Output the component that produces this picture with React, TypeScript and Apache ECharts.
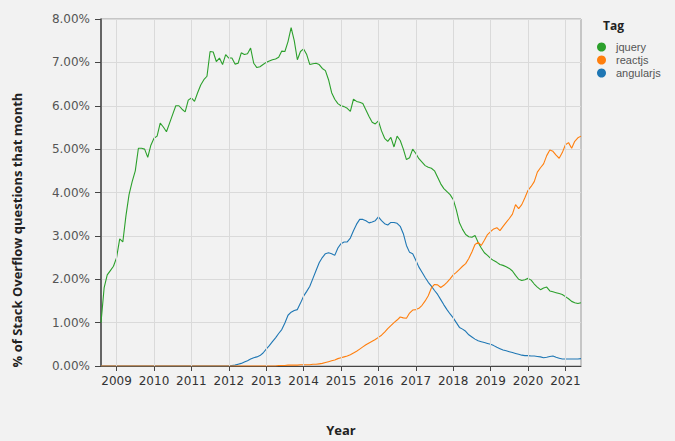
import React, { useEffect, useRef } from 'react';
import * as echarts from 'echarts';

// Monthly series, starting August 2008
const START_YEAR = 2008;
const START_MONTH = 8;
const END_YEAR = 2021;
const END_MONTH = 6;

const yearTicks = [2009, 2010, 2011, 2012, 2013, 2014, 2015, 2016, 2017, 2018, 2019, 2020, 2021];
const legendNames = ['jquery', 'reactjs', 'angularjs'];

const jquery = [
  1.00, 1.80, 2.10, 2.20, 2.30, 2.50, 2.93, 2.86, 3.46, 3.95,
  4.25, 4.50, 5.02, 5.02, 5.00, 4.81, 5.09, 5.25, 5.30, 5.60,
  5.51, 5.40, 5.60, 5.80, 6.00, 6.00, 5.92, 5.86, 6.13, 6.18,
  6.10, 6.30, 6.48, 6.60, 6.68, 7.25, 7.24, 7.02, 7.10, 6.95,
  7.18, 7.10, 7.10, 6.96, 6.98, 7.22, 7.18, 7.20, 7.33, 6.98,
  6.88, 6.90, 6.95, 7.00, 7.03, 7.06, 7.08, 7.12, 7.26, 7.25,
  7.48, 7.80, 7.50, 7.06, 7.25, 7.31, 7.18, 6.95, 6.97, 6.98,
  6.95, 6.86, 6.81, 6.60, 6.30, 6.15, 6.05, 6.00, 5.98, 5.94,
  5.87, 6.15, 6.10, 6.08, 6.05, 5.90, 5.75, 5.62, 5.58, 5.65,
  5.42, 5.25, 5.18, 5.27, 5.05, 5.30, 5.20, 5.00, 4.76, 4.80,
  5.00, 4.90, 4.78, 4.70, 4.62, 4.58, 4.56, 4.50, 4.35, 4.20,
  4.09, 4.02, 3.95, 3.84, 3.60, 3.30, 3.15, 3.03, 2.98, 2.97,
  3.01, 2.85, 2.72, 2.61, 2.55, 2.48, 2.43, 2.39, 2.34, 2.32,
  2.29, 2.25, 2.19, 2.09, 2.00, 1.97, 1.99, 2.02, 1.98, 1.89,
  1.82, 1.76, 1.80, 1.82, 1.73, 1.71, 1.69, 1.67, 1.65, 1.60,
  1.55, 1.49, 1.46, 1.44, 1.46,
];

const angularjs = [
  0, 0, 0, 0, 0, 0, 0, 0, 0, 0,
  0, 0, 0, 0, 0, 0, 0, 0, 0, 0,
  0, 0, 0, 0, 0, 0, 0, 0, 0, 0,
  0, 0, 0, 0, 0, 0, 0, 0, 0, 0,
  0, 0,
  0.01, 0.02, 0.04, 0.06, 0.09, 0.12, 0.16, 0.19, 0.21, 0.24,
  0.30, 0.39, 0.47, 0.56, 0.65, 0.75, 0.84, 0.99, 1.17, 1.24,
  1.28, 1.30, 1.45, 1.61, 1.72, 1.84, 2.02, 2.20, 2.38, 2.50,
  2.59, 2.61, 2.59, 2.55, 2.72, 2.82, 2.86, 2.86, 2.95, 3.12,
  3.27, 3.38, 3.38, 3.35, 3.30, 3.32, 3.35, 3.44, 3.35, 3.28,
  3.25, 3.31, 3.31, 3.29, 3.22, 3.05, 2.78, 2.62, 2.59, 2.44,
  2.28, 2.16, 2.04, 1.93, 1.84, 1.74, 1.65, 1.53, 1.41, 1.30,
  1.20, 1.11, 1.00, 0.89, 0.85, 0.80, 0.72, 0.67, 0.62, 0.58,
  0.56, 0.54, 0.52, 0.50, 0.47, 0.43, 0.40, 0.37, 0.35, 0.33,
  0.31, 0.29, 0.27, 0.25, 0.24, 0.24, 0.23, 0.23, 0.22, 0.21,
  0.19, 0.20, 0.22, 0.23, 0.20, 0.18, 0.16, 0.16, 0.16, 0.16,
  0.16, 0.16, 0.17,
];

const reactjs = [
  0, 0, 0, 0, 0, 0, 0, 0, 0, 0,
  0, 0, 0, 0, 0, 0, 0, 0, 0, 0,
  0, 0, 0, 0, 0, 0, 0, 0, 0, 0,
  0, 0, 0, 0, 0, 0, 0, 0, 0, 0,
  0, 0, 0, 0, 0, 0, 0, 0, 0, 0,
  0, 0, 0, 0, 0, 0, 0,
  0.01, 0.01, 0.01, 0.02, 0.02, 0.02, 0.02, 0.03, 0.03, 0.03,
  0.03, 0.04, 0.04, 0.05, 0.06, 0.08, 0.10, 0.12, 0.14, 0.17,
  0.19, 0.21, 0.23, 0.26, 0.30, 0.34, 0.39, 0.44, 0.49, 0.53,
  0.57, 0.61, 0.66, 0.71, 0.78, 0.86, 0.93, 1.00, 1.06, 1.13,
  1.11, 1.10, 1.22, 1.29, 1.30, 1.33, 1.40, 1.50, 1.62, 1.80,
  1.88, 1.87, 1.81, 1.86, 1.93, 2.01, 2.10, 2.16, 2.23, 2.30,
  2.36, 2.48, 2.63, 2.80, 2.85, 2.78, 2.90, 3.03, 3.10, 3.16,
  3.19, 3.12, 3.22, 3.31, 3.40, 3.50, 3.72, 3.63, 3.72, 3.88,
  4.05, 4.14, 4.25, 4.47, 4.57, 4.66, 4.85, 4.98, 4.95, 4.86,
  4.79, 4.92, 5.10, 5.15, 5.02, 5.18, 5.26, 5.30,
];

const COLORS: Record<string, string> = {
  jquery: '#2ca02c',
  reactjs: '#ff7f0e',
  angularjs: '#1f77b4',
};

const BG = '#f2f2f2';
const GRID = '#dadada';
const AXIS = '#444';

export default function App() {
  const ref = useRef<HTMLDivElement>(null);

  useEffect(() => {
    if (!ref.current) return;
    const chart = echarts.init(ref.current, null, { renderer: 'svg' });

    const monthTime = (i: number) => START_YEAR + (START_MONTH - 1 + i) / 12;
    const xMin = START_YEAR + (START_MONTH - 1) / 12;
    const xMax = END_YEAR + (END_MONTH - 1) / 12;
    const toPoints = (arr: number[]) => arr.map((v, i) => [monthTime(i), v]);

    const lineSeries = (name: string, arr: number[], z: number) => ({
      name,
      type: 'line',
      data: toPoints(arr),
      showSymbol: false,
      symbol: 'circle',
      z,
      lineStyle: { width: 1.1, color: COLORS[name] },
      itemStyle: { color: COLORS[name] },
      emphasis: { disabled: true },
    });

    chart.setOption({
      animation: false,
      backgroundColor: BG,
      textStyle: { fontFamily: 'DejaVu Sans' },
      grid: {
        left: 101,
        right: 94,
        top: 19,
        bottom: 70,
        show: true,
        borderColor: '#9a9a9a',
        borderWidth: 1,
        backgroundColor: 'transparent',
      },
      title: {
        text: 'Tag',
        left: 603,
        top: 19,
        padding: 0,
        textStyle: { fontFamily: 'Open Sans', fontSize: 12, fontWeight: 'bold', color: '#222' },
      },
      legend: {
        orient: 'vertical',
        left: 597,
        top: 41,
        padding: 0,
        itemGap: 1,
        itemWidth: 9,
        itemHeight: 9,
        icon: 'circle',
        data: legendNames,
        selectedMode: false,
        textStyle: {
          fontFamily: 'Liberation Sans',
          fontSize: 11,
          color: '#555',
          lineHeight: 12,
          padding: [0, 0, 0, 5],
        },
      },
      xAxis: {
        type: 'value',
        min: xMin,
        max: xMax,
        axisLine: { show: true, onZero: false, lineStyle: { color: AXIS, width: 1 } },
        axisTick: { show: true, customValues: yearTicks, length: 5, lineStyle: { color: AXIS } },
        axisLabel: {
          customValues: yearTicks,
          formatter: (v: number) => String(Math.round(v)),
          margin: 9,
          fontSize: 12,
          color: '#333',
          fontFamily: 'DejaVu Sans',
        },
        splitLine: { show: false },
        name: 'Year',
        nameLocation: 'middle',
        nameGap: 57,
        nameTextStyle: { fontWeight: 'bold', fontSize: 13, fontFamily: 'Open Sans', color: '#222' },
      },
      yAxis: {
        type: 'value',
        min: 0,
        max: 8,
        interval: 1,
        axisLine: { show: true, lineStyle: { color: AXIS, width: 1.5 } },
        axisTick: { show: true, length: 6, lineStyle: { color: AXIS } },
        axisLabel: {
          formatter: (v: number) => v.toFixed(2) + '%',
          margin: 11,
          fontSize: 12,
          color: '#555',
          fontFamily: 'DejaVu Sans',
        },
        splitLine: { show: true, lineStyle: { color: GRID, width: 1 } },
      },
      graphic: [
        {
          type: 'text',
          rotation: Math.PI / 2,
          x: 17,
          y: 230,
          style: {
            text: '% of Stack Overflow questions that month',
            textAlign: 'center',
            textVerticalAlign: 'middle',
            font: 'bold 13px "Open Sans"',
            fill: '#222',
          },
        },
      ],
      series: [
        {
          name: 'year-grid',
          type: 'line',
          data: [],
          silent: true,
          z: 1,
          markLine: {
            silent: true,
            symbol: ['none', 'none'],
            label: { show: false },
            lineStyle: { color: GRID, width: 1, type: 'solid' },
            emphasis: { disabled: true },
            data: yearTicks.map((y) => ({ xAxis: y })),
          },
        },
        lineSeries('jquery', jquery, 3),
        lineSeries('angularjs', angularjs, 3),
        lineSeries('reactjs', reactjs, 3),
      ],
    });

    return () => chart.dispose();
  }, []);

  return (
    <div
      ref={ref}
      style={{ position: 'fixed', left: 0, top: 0, width: 675, height: 441, background: BG }}
    />
  );
}
